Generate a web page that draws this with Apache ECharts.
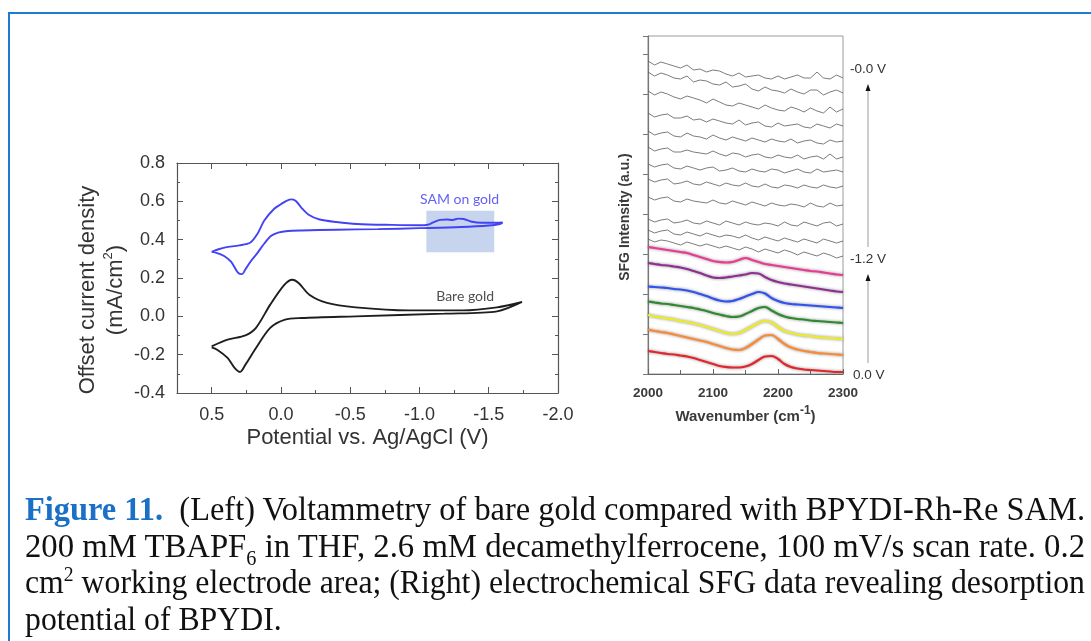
<!DOCTYPE html>
<html>
<head>
<meta charset="utf-8">
<script src="https://cdn.jsdelivr.net/npm/echarts@6.0.0/dist/echarts.min.js"></script>
<style>
  html, body { margin: 0; padding: 0; background: #fff; overflow: hidden; }
  #frame {
    position: absolute; left: 8px; top: 12px; width: 1200px; height: 700px;
    border-left: 2px solid #1c7cd0; border-top: 2px solid #1c7cd0;
  }
  #chart { position: absolute; left: 0; top: 0; width: 1091px; height: 641px; }
  #caption {
    position: absolute; left: 25px; top: 491px; width: 1060px;
    font-family: "Liberation Serif", serif; font-size: 33px; line-height: 36.5px; color: #111;
  }
  #caption div { white-space: nowrap; }
  #caption span.ln { display: inline-block; transform-origin: 0 50%; }
  #caption b { color: #1a6fc6; }
  #caption sub, #caption sup { font-size: 0.62em; line-height: 0; }
</style>
</head>
<body>
<div id="frame"></div>
<div id="chart"></div>
<div id="caption">
  <div><span class="ln" data-fit="1"><b>Figure 11.</b>&nbsp; (Left) Voltammetry of bare gold compared with BPYDI-Rh-Re SAM.</span></div>
  <div><span class="ln" data-fit="1">200 mM TBAPF<sub>6</sub> in THF, 2.6 mM decamethylferrocene, 100 mV/s scan rate. 0.2</span></div>
  <div><span class="ln" data-fit="1">cm<sup>2</sup> working electrode area; (Right) electrochemical SFG data revealing desorption</span></div>
  <div><span class="ln">potential of BPYDI.</span></div>
</div>
<script>
// ---- left panel: cyclic voltammograms (potential V, offset current mA/cm2) ----
const samPotential = [0.5, 0.45, 0.4, 0.3, 0.22, 0.17, 0.12, 0.05, 0.0, -0.04, -0.08, -0.11, -0.15, -0.2, -0.28, -0.4, -0.55, -0.8, -1.0, -1.06, -1.1, -1.15, -1.2, -1.24, -1.28, -1.32, -1.37, -1.45, -1.55, -1.6,
  -1.58, -1.5, -1.3, -1.0, -0.7, -0.4, -0.15, -0.05, 0.02, 0.07, 0.12, 0.17, 0.22, 0.26, 0.28, 0.31, 0.36, 0.41, 0.46, 0.5];
const samCurrent = [0.336, 0.35, 0.36, 0.37, 0.385, 0.43, 0.5, 0.56, 0.585, 0.603, 0.61, 0.6, 0.565, 0.53, 0.505, 0.492, 0.482, 0.477, 0.475, 0.478, 0.49, 0.503, 0.505, 0.503, 0.51, 0.508, 0.495, 0.488, 0.488, 0.49,
  0.482, 0.474, 0.466, 0.46, 0.455, 0.452, 0.448, 0.445, 0.437, 0.42, 0.38, 0.33, 0.285, 0.24, 0.22, 0.228, 0.285, 0.315, 0.33, 0.336];

const barePotential = [0.5, 0.385, 0.256, 0.18, 0.077, -0.026, -0.082, -0.128, -0.205, -0.333, -0.54, -0.92, -1.31, -1.56, -1.74,
  -1.56, -1.18, -0.54, -0.15, -0.03, 0.077, 0.18, 0.256, 0.295, 0.333, 0.385, 0.46, 0.5];
const bareCurrent = [-0.157, -0.122, -0.099, -0.06, 0.061, 0.165, 0.191, 0.174, 0.113, 0.07, 0.047, 0.031, 0.031, 0.047, 0.075,
  0.026, 0.014, 0.0, -0.009, -0.017, -0.06, -0.165, -0.252, -0.29, -0.27, -0.217, -0.174, -0.162];

const highlightBox = [[-1.05, 0.334], [-1.54, 0.551]];
const cvLabels = [
  { text: 'SAM on gold', x: -1.29, y: 0.612, color: '#3a3af2' },
  { text: 'Bare gold', x: -1.33, y: 0.106, color: '#222' }
];

// ---- right panel: SFG spectra (wavenumber cm-1, offset intensity a.u.) ----
const wavenumbers = [2000, 2010, 2020, 2030, 2040, 2050, 2060, 2070, 2080, 2090, 2100, 2110, 2120, 2130, 2140, 2150,
  2160, 2170, 2180, 2190, 2200, 2210, 2220, 2230, 2240, 2250, 2260, 2270, 2280, 2290, 2300];

// raw spectra without a visible peak, top (-0.0 V) downwards
const rawSpectra = [
  [31.3, 30.9, 31.2, 31.0, 30.8, 30.6, 30.9, 30.4, 30.5, 30.2, 30.4, 30.3, 30.0, 29.8, 30.1, 29.7, 29.8, 29.9, 29.6, 29.5, 29.8, 29.5, 29.7, 29.9, 29.6, 29.6, 30.2, 29.6, 29.5, 29.9, 29.6],
  [30.2, 29.8, 30.1, 29.9, 29.6, 29.5, 29.8, 29.2, 29.4, 29.3, 29.0, 28.9, 29.2, 28.7, 28.8, 29.0, 28.5, 28.3, 28.7, 28.4, 28.3, 28.1, 28.5, 28.2, 28.0, 28.4, 28.4, 27.9, 28.2, 28.4, 28.1],
  [28.3, 27.9, 28.2, 28.0, 27.7, 27.5, 27.8, 27.6, 27.4, 27.1, 27.5, 27.2, 26.9, 26.8, 27.1, 26.9, 26.7, 26.5, 26.9, 26.6, 26.4, 26.3, 26.7, 26.5, 26.2, 26.6, 26.3, 26.1, 26.7, 26.2, 26.5],
  [26.1, 25.7, 25.9, 26.0, 25.6, 25.6, 25.8, 25.4, 25.5, 25.2, 25.5, 25.3, 25.1, 25.0, 25.4, 24.9, 25.1, 25.2, 24.8, 24.7, 25.1, 24.8, 24.9, 25.0, 24.7, 24.6, 25.0, 24.8, 24.6, 25.0, 24.8],
  [24.3, 23.9, 24.1, 24.2, 23.8, 23.7, 24.1, 23.8, 23.7, 23.5, 23.9, 23.6, 23.4, 23.7, 23.5, 23.3, 23.6, 23.4, 23.2, 23.5, 23.3, 23.2, 23.5, 23.1, 23.3, 23.4, 23.1, 23.0, 23.4, 23.2, 23.3],
  [22.7, 22.3, 22.5, 22.6, 22.2, 22.2, 22.4, 22.2, 22.1, 22.0, 22.3, 22.0, 21.8, 22.1, 22.0, 21.7, 21.9, 22.0, 21.7, 21.6, 21.9, 21.7, 21.6, 21.9, 21.5, 21.7, 21.8, 21.5, 22.0, 21.5, 21.7],
  [21.0, 20.7, 20.9, 21.0, 20.6, 20.5, 20.8, 20.6, 20.4, 20.6, 20.7, 20.3, 20.4, 20.6, 20.3, 20.2, 20.5, 20.3, 20.2, 20.5, 20.4, 20.1, 20.3, 20.5, 20.2, 20.1, 20.5, 20.2, 20.3, 20.4, 20.2],
  [19.5, 19.2, 19.4, 19.5, 19.0, 19.1, 19.3, 19.0, 18.9, 19.2, 19.0, 18.8, 19.1, 18.9, 18.8, 19.1, 18.8, 18.7, 19.0, 18.7, 18.6, 18.9, 18.8, 18.6, 18.9, 18.7, 18.6, 18.9, 18.7, 18.6, 18.8],
  [17.7, 17.4, 17.6, 17.7, 17.3, 17.2, 17.5, 17.3, 17.2, 17.1, 17.4, 17.1, 17.0, 17.3, 17.1, 16.9, 17.2, 17.0, 16.8, 17.1, 16.9, 16.8, 17.0, 16.9, 16.7, 17.1, 16.8, 16.7, 17.1, 16.8, 16.9],
  [15.5, 15.2, 15.4, 15.5, 15.1, 15.2, 15.4, 15.1, 15.0, 15.3, 15.1, 14.9, 15.3, 15.1, 14.9, 15.2, 15.0, 14.9, 15.1, 15.0, 14.8, 15.2, 14.9, 14.8, 15.2, 15.0, 14.8, 15.1, 15.2, 14.8, 15.0],
  [14.4, 14.1, 14.3, 14.4, 14.0, 13.9, 14.2, 14.0, 13.8, 14.1, 13.9, 13.7, 13.9, 13.8, 13.6, 13.9, 13.6, 13.4, 13.7, 13.5, 13.3, 13.6, 13.4, 13.2, 13.5, 13.3, 13.1, 13.5, 13.3, 13.1, 13.3],
  [13.5, 13.2, 13.4, 13.3, 13.1, 12.9, 13.2, 13.0, 12.8, 13.0, 12.8, 12.6, 12.8, 12.6, 12.4, 12.7, 12.5, 12.2, 12.5, 12.3, 12.1, 12.4, 12.2, 11.9, 12.2, 12.0, 11.8, 12.1, 11.9, 11.6, 11.8]
];

// fitted spectra, top (-1.2 V) to bottom (0.0 V)
const fitPink   = [12.7, 12.6, 12.5, 12.4, 12.3, 12.2, 12.1, 11.9, 11.7, 11.5, 11.3, 11.2, 11.15, 11.2, 11.4, 11.6, 11.4, 11.2, 11.0, 10.9, 10.8, 10.7, 10.6, 10.5, 10.4, 10.3, 10.25, 10.15, 10.05, 9.95, 9.9];
const fitPurple = [11.1, 11.0, 10.9, 10.85, 10.75, 10.65, 10.5, 10.3, 10.1, 9.85, 9.65, 9.6, 9.65, 9.75, 9.85, 9.95, 10.1, 10.05, 9.7, 9.4, 9.2, 9.05, 8.95, 8.85, 8.75, 8.65, 8.55, 8.45, 8.35, 8.25, 8.2];
const fitBlue   = [8.75, 8.7, 8.65, 8.6, 8.5, 8.45, 8.35, 8.2, 8.0, 7.8, 7.55, 7.35, 7.25, 7.3, 7.5, 7.75, 8.0, 8.2, 8.05, 7.6, 7.3, 7.1, 7.0, 6.95, 6.9, 6.85, 6.8, 6.75, 6.7, 6.65, 6.6];
const fitGreen  = [7.25, 7.15, 7.05, 7.0, 6.9, 6.8, 6.7, 6.6, 6.45, 6.3, 6.1, 5.95, 5.8, 5.7, 5.75, 6.0, 6.3, 6.6, 6.7, 6.35, 6.0, 5.75, 5.6, 5.5, 5.45, 5.35, 5.3, 5.25, 5.2, 5.15, 5.1];
const fitYellow = [5.9, 5.75, 5.65, 5.55, 5.45, 5.3, 5.2, 5.05, 4.9, 4.7, 4.5, 4.3, 4.1, 4.0, 4.1, 4.4, 4.75, 5.1, 5.3, 5.15, 4.7, 4.3, 4.1, 3.95, 3.85, 3.8, 3.7, 3.65, 3.6, 3.55, 3.5];
const fitOrange = [4.45, 4.3, 4.2, 4.1, 3.95, 3.8, 3.65, 3.5, 3.35, 3.2, 3.0, 2.8, 2.6, 2.45, 2.4, 2.6, 3.0, 3.45, 3.85, 3.9, 3.5, 3.0, 2.65, 2.45, 2.3, 2.2, 2.1, 2.05, 2.0, 1.95, 1.9];
const fitRed    = [2.3, 2.2, 2.1, 2.0, 1.95, 1.85, 1.75, 1.6, 1.4, 1.2, 1.0, 0.8, 0.7, 0.65, 0.65, 0.75, 1.0, 1.4, 1.75, 1.8, 1.5, 1.0, 0.7, 0.55, 0.45, 0.4, 0.35, 0.3, 0.25, 0.2, 0.2];

const fits = [
  { data: fitPink, color: '#ec3a92' },
  { data: fitPurple, color: '#8e2f92' },
  { data: fitBlue, color: '#2f52f2' },
  { data: fitGreen, color: '#2f8a2f' },
  { data: fitYellow, color: '#eeee1e' },
  { data: fitOrange, color: '#fb8a34' },
  { data: fitRed, color: '#e3262b' }
];

const potentialLabels = ['-0.0 V', '-1.2 V', '0.0 V'];

const zip = (xs, ys) => xs.map((x, i) => [x, ys[i]]);

// squeeze the caption lines to the column width, like the narrow serif of the original
const captionWidth = 1060;
let lastScale = 1;
document.querySelectorAll('#caption span.ln').forEach(el => {
  if (el.dataset.fit) {
    lastScale = captionWidth / el.getBoundingClientRect().width;
  }
  el.style.transform = 'scaleX(' + lastScale + ')';
});

const chart = echarts.init(document.getElementById('chart'));

const axisColor = '#555';
const labelColor = '#333';
const font = 'Liberation Sans, Arial, sans-serif';

const boxAxis = (extra) => Object.assign({
  type: 'value',
  axisLine: { show: true, onZero: false, lineStyle: { color: axisColor, width: 1.2 } },
  axisTick: { show: true, inside: true, length: 6, lineStyle: { color: axisColor } },
  minorTick: { show: true, splitNumber: 2, length: 3, lineStyle: { color: axisColor } },
  splitLine: { show: false },
  minorSplitLine: { show: false }
}, extra);

const fmt1 = (v) => (Math.abs(v * 2 - Math.round(v * 2)) > 1e-6 ? '' : v.toFixed(1));

const option = {
  animation: false,
  grid: [
    { left: 177, top: 163, width: 381, height: 230, outerBoundsMode: 'none' },
    { left: 648, top: 36, width: 195, height: 338, outerBoundsMode: 'none', show: true, borderColor: '#9a9a9a', borderWidth: 1 }
  ],
  xAxis: [
    boxAxis({
      gridIndex: 0, position: 'bottom', min: -2.0, max: 0.75, interval: 0.5, inverse: true,
      axisLabel: { show: true, formatter: fmt1, color: labelColor, fontSize: 18, fontFamily: font, margin: 13, showMaxLabel: false },
      name: 'Potential vs. Ag/AgCl (V)', nameLocation: 'middle', nameGap: 34,
      nameTextStyle: { color: labelColor, fontSize: 22, fontFamily: font }
    }),
    boxAxis({ gridIndex: 0, position: 'top', min: -2.0, max: 0.75, interval: 0.5, inverse: true, axisLabel: { show: false } }),
    {
      type: 'value', gridIndex: 1, position: 'bottom', min: 2000, max: 2300, interval: 100,
      axisLine: { show: true, onZero: false, lineStyle: { color: '#666', width: 1.2 } },
      axisTick: { show: true, inside: true, length: 5, lineStyle: { color: '#666' } },
      minorTick: { show: true, splitNumber: 2, length: 4, lineStyle: { color: '#666' } },
      splitLine: { show: false },
      axisLabel: { formatter: (v) => String(v), color: '#3a3a3a', fontSize: 13.5, fontFamily: font, fontWeight: 'bold', margin: 12 },
      name: 'Wavenumber (cm{sup|-1})', nameLocation: 'middle', nameGap: 30,
      nameTextStyle: {
        color: '#3a3a3a', fontSize: 15, fontFamily: font, fontWeight: 'bold',
        rich: { sup: { fontSize: 12, fontFamily: font, fontWeight: 'bold', color: '#3a3a3a', verticalAlign: 'top', padding: [0, 0, 12, 0] } }
      }
    }
  ],
  yAxis: [
    boxAxis({
      gridIndex: 0, position: 'left', min: -0.4, max: 0.8, interval: 0.2,
      axisLabel: { show: true, formatter: (v) => v.toFixed(1), color: labelColor, fontSize: 18, fontFamily: font, margin: 12 },
      name: 'Offset current density\n(mA/cm{sup|2})', nameLocation: 'middle', nameGap: 42, nameRotate: 90,
      nameTextStyle: {
        color: labelColor, fontSize: 22, fontFamily: font, lineHeight: 28, padding: [0, 24, 0, 0],
        rich: { sup: { fontSize: 13, fontFamily: font, color: labelColor, verticalAlign: 'top', padding: [0, 0, 14, 0] } }
      }
    }),
    boxAxis({ gridIndex: 0, position: 'right', min: -0.4, max: 0.8, interval: 0.2, axisLabel: { show: false } }),
    {
      type: 'value', gridIndex: 1, position: 'left', min: 0, max: 33.8, interval: 4,
      axisLine: { show: true, onZero: false, lineStyle: { color: '#777', width: 1.2 } },
      axisTick: { show: true, inside: false, length: 5, lineStyle: { color: '#777' } },
      splitLine: { show: false },
      axisLabel: { show: false },
      name: 'SFG Intensity (a.u.)', nameLocation: 'middle', nameGap: 16, nameRotate: 90,
      nameTextStyle: { color: '#3a3a3a', fontSize: 14, fontFamily: font, fontWeight: 'bold', padding: [0, 24, 0, 0] }
    }
  ],
  series: [
    {
      name: 'SAM on gold', type: 'line', xAxisIndex: 0, yAxisIndex: 0,
      data: zip(samPotential, samCurrent), showSymbol: false, smooth: 0.3,
      lineStyle: { color: '#4343f4', width: 1.9 }, z: 3,
      markArea: {
        silent: true,
        itemStyle: { color: 'rgba(118,152,214,0.42)' },
        data: [[{ xAxis: highlightBox[0][0], yAxis: highlightBox[0][1] }, { xAxis: highlightBox[1][0], yAxis: highlightBox[1][1] }]]
      }
    },
    {
      name: 'Bare gold', type: 'line', xAxisIndex: 0, yAxisIndex: 0,
      data: zip(barePotential, bareCurrent), showSymbol: false, smooth: 0.3,
      lineStyle: { color: '#1e1e1e', width: 1.9 }, z: 3
    },
    {
      type: 'scatter', xAxisIndex: 0, yAxisIndex: 0, symbolSize: 0, silent: true,
      data: cvLabels.map(l => ({
        value: [l.x, l.y],
        label: { show: true, position: 'inside', formatter: l.text, color: l.color, fontSize: 14, fontFamily: 'Lato, ' + font }
      }))
    },
    ...rawSpectra.map(ys => ({
      type: 'line', xAxisIndex: 2, yAxisIndex: 2, data: zip(wavenumbers, ys),
      showSymbol: false, lineStyle: { color: '#5a5a5a', width: 0.8 }, silent: true
    })),
    ...fits.map(f => ({
      type: 'line', xAxisIndex: 2, yAxisIndex: 2, data: zip(wavenumbers, f.data),
      showSymbol: false, smooth: 0.4,
      lineStyle: { color: f.color, width: 2.2, shadowColor: 'rgba(80,80,80,0.7)', shadowBlur: 3 }, silent: true
    }))
  ],
  graphic: [
    { type: 'line', shape: { x1: 868, y1: 247, x2: 868, y2: 90 }, style: { stroke: '#bdbdbd', lineWidth: 1.5 } },
    { type: 'polygon', shape: { points: [[865.5, 91], [870.5, 91], [868, 84]] }, style: { fill: '#111' } },
    { type: 'line', shape: { x1: 868, y1: 363, x2: 868, y2: 280 }, style: { stroke: '#bdbdbd', lineWidth: 1.5 } },
    { type: 'polygon', shape: { points: [[865.5, 281], [870.5, 281], [868, 274]] }, style: { fill: '#111' } },
    { type: 'text', left: 850, top: 62, style: { text: potentialLabels[0], fill: '#333', font: '13.5px ' + font } },
    { type: 'text', left: 850, top: 252, style: { text: potentialLabels[1], fill: '#333', font: '13.5px ' + font } },
    { type: 'text', left: 853, top: 368, style: { text: potentialLabels[2], fill: '#333', font: '13.5px ' + font } }
  ]
};

chart.setOption(option);
</script>
</body>
</html>
